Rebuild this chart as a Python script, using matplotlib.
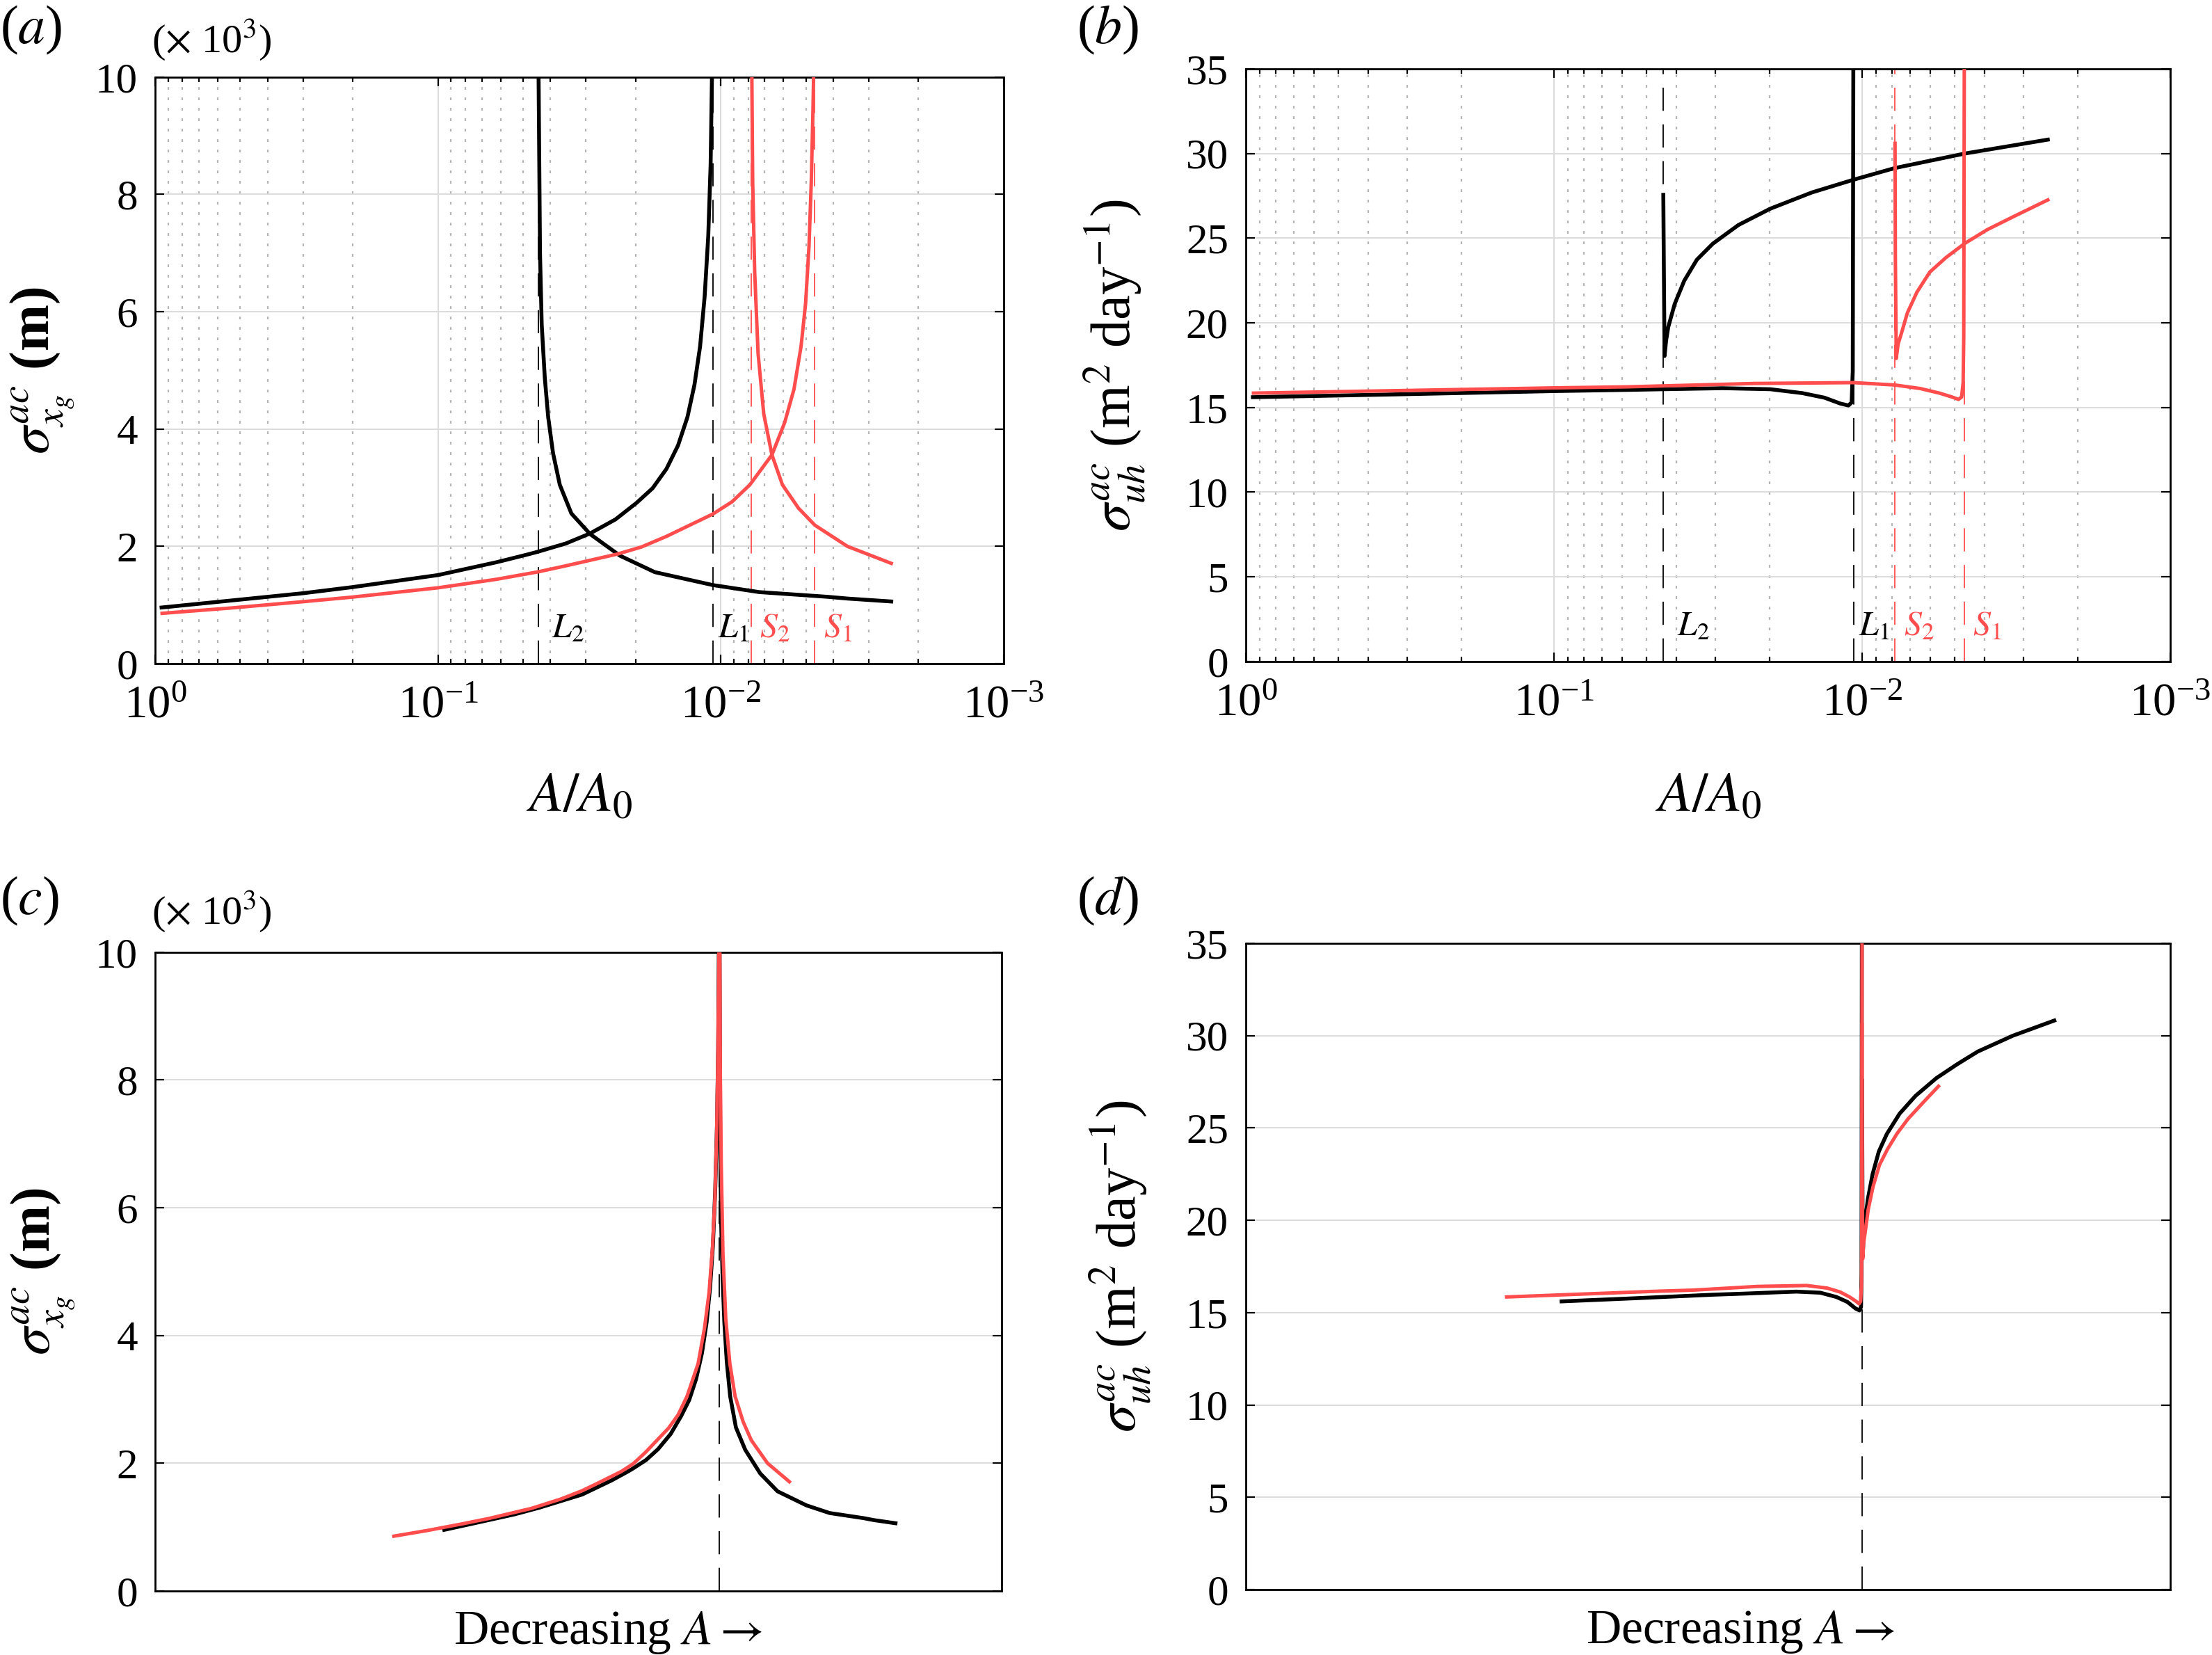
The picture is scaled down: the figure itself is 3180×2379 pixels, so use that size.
import numpy as np
import matplotlib
matplotlib.use('Agg')
import matplotlib.pyplot as plt
from matplotlib.ticker import LogLocator, NullFormatter

plt.rcParams['font.family'] = ['Liberation Serif', 'DejaVu Serif']
plt.rcParams['mathtext.fontset'] = 'stix'
plt.rcParams['lines.scale_dashes'] = False

# ---------------- data ----------------
# fold / bifurcation points (A/A0)
L2, L1, S2, S1 = 0.04416, 0.01064, 0.007816, 0.004656
fold_names = ['L_2', 'L_1', 'S_2', 'S_1']
fold_values = [L2, L1, S2, S1]
fold_colors = ['k', 'k', 'r', 'r']

# panel (a): sigma_xg (x 10^3 m)
A_xg_k1 = [0.9484, 0.5395, 0.3006, 0.2004, 0.1000, 0.06194, 0.04831, 0.04416, 0.03524,
           0.02897, 0.02355, 0.01986, 0.01742, 0.01556, 0.01416, 0.01312, 0.01239, 0.01183,
           0.01140, 0.01107, 0.01086, 0.01074, 0.01069]
xg_k1 = [0.957, 1.076, 1.20, 1.305, 1.51, 1.73, 1.86, 1.91, 2.05, 2.22, 2.46, 2.74, 2.99,
         3.32, 3.72, 4.20, 4.75, 5.41, 6.26, 7.29, 8.50, 10.02, 12.0]

A_xg_r1 = [0.9441, 0.5395, 0.3006, 0.2004, 0.1000, 0.06194, 0.04416, 0.03524, 0.02312,
           0.01905, 0.01556, 0.01067, 0.009120, 0.007888, 0.006592, 0.005943, 0.005508,
           0.005200, 0.005012, 0.004875, 0.004786, 0.004721, 0.004688, 0.004667]
xg_r1 = [0.858, 0.949, 1.056, 1.135, 1.293, 1.439, 1.566, 1.669, 1.87, 1.99, 2.17, 2.55,
         2.76, 3.05, 3.56, 4.11, 4.68, 5.41, 6.14, 7.11, 8.2, 9.41, 10.2, 12.0]

A_xg_k2 = [0.04416, 0.04406, 0.04355, 0.04295, 0.04188, 0.04074, 0.03917, 0.03707, 0.03373,
           0.02897, 0.02270, 0.01710, 0.01067, 0.007311, 0.004198, 0.003565, 0.002495]
xg_k2 = [12.0, 10.0, 6.99, 5.78, 4.87, 4.20, 3.59, 3.05, 2.56, 2.21, 1.84, 1.56, 1.34, 1.22,
         1.14, 1.11, 1.06]

A_xg_r2 = [0.007816, 0.007762, 0.007709, 0.007586, 0.007379, 0.007047, 0.006592, 0.006053,
           0.005309, 0.004645, 0.003565, 0.002495]
xg_r2 = [12.0, 10.0, 8.2, 6.68, 5.29, 4.26, 3.56, 3.05, 2.65, 2.36, 2.00, 1.71]

# panel (b): sigma_uh (m^2 day^-1)
A_uh_k1 = [0.9484, 0.3162, 0.1000, 0.05794, 0.04406, 0.02838, 0.01986, 0.01563, 0.01324,
           0.01175, 0.01107, 0.01081, 0.01072, 0.01067]
uh_k1 = [15.61, 15.78, 15.97, 16.04, 16.08, 16.14, 16.08, 15.85, 15.58, 15.23, 15.12, 15.30,
         17.15, 37.0]

A_uh_r1 = [0.9441, 0.1000, 0.05794, 0.02234, 0.01067, 0.007834, 0.006471, 0.005610,
           0.005105, 0.004864, 0.004753, 0.004699, 0.004677, 0.004656]
uh_r1 = [15.85, 16.16, 16.22, 16.42, 16.47, 16.33, 16.12, 15.85, 15.62, 15.48, 15.62, 16.47,
         19.2, 37.0]

A_uh_k2 = [0.04416, 0.04395, 0.04375, 0.04325, 0.04256, 0.04055, 0.03776, 0.03436, 0.03048,
           0.02518, 0.01986, 0.01455, 0.01067, 0.007834, 0.004634, 0.002495]
uh_k2 = [27.56, 22.5, 18.04, 18.95, 19.75, 21.12, 22.49, 23.73, 24.68, 25.78, 26.74, 27.70,
         28.45, 29.14, 30.0, 30.82]

A_uh_r2 = [0.007816, 0.007798, 0.007745, 0.007638, 0.007464, 0.007129, 0.006638, 0.006026,
           0.005346, 0.004634, 0.003926, 0.003162, 0.002495]
uh_r2 = [30.6, 24.0, 17.9, 18.75, 19.34, 20.58, 21.81, 23.0, 23.85, 24.7, 25.5, 26.35,
         27.26]

xg_ticks = [0, 2, 4, 6, 8, 10]
uh_ticks = [0, 5, 10, 15, 20, 25, 30, 35]

# ---------------- style ----------------
RED = '#ff4d4d'
BLK = 'black'
COL = {'k': BLK, 'r': RED}
LW_K, LW_R = 2.0, 1.8
GRID = '#dcdcdc'

fig = plt.figure(figsize=(15.9, 11.895), dpi=200)
ax_a = fig.add_axes([0.0701, 0.5990, 0.3836, 0.3544])
ax_b = fig.add_axes([0.5632, 0.6003, 0.4179, 0.3581])
ax_c = fig.add_axes([0.0701, 0.0387, 0.3827, 0.3859])
ax_d = fig.add_axes([0.5632, 0.0395, 0.4179, 0.3905])


def base_style(ax, yticks):
    ax.set_ylim(yticks[0], yticks[-1])
    ax.set_yticks(yticks)
    ax.tick_params(axis='both', which='both', direction='in', top=True, right=True)
    ax.tick_params(axis='y', which='major', length=4.8, width=0.8, labelsize=22, pad=9)
    ax.tick_params(axis='x', which='major', length=4.8, width=0.8, labelsize=24, pad=11)
    ax.tick_params(axis='x', which='minor', length=2.4, width=0.8)
    ax.grid(axis='y', color=GRID, lw=0.7)
    for s in ax.spines.values():
        s.set_linewidth(1.0)
    ax.set_axisbelow(True)


def log_style(ax):
    ax.set_xscale('log')
    ax.set_xlim(1, 1e-3)
    ax.xaxis.set_major_locator(LogLocator(base=10, numticks=10))
    ax.xaxis.set_minor_locator(LogLocator(base=10, subs=np.arange(2, 10), numticks=100))
    ax.xaxis.set_minor_formatter(NullFormatter())
    ax.grid(axis='x', which='major', color=GRID, lw=0.7)
    ax.grid(axis='x', which='minor', color='#b4b4b4', lw=0.8, linestyle=(0, (1.4, 4.0)))


def fold_lines(ax, ylab):
    offs = [7, 2.5, 4.5, 4.5]
    for name, val, c, o in zip(fold_names, fold_values, fold_colors, offs):
        ax.axvline(val, color=COL[c], lw=0.65, dashes=(12, 7), zorder=2)
        ax.annotate('$%s$' % name, xy=(val, ylab), xytext=(o, 0), textcoords='offset points',
                    ha='left', va='baseline', fontsize=18, color=COL[c])


# ---- (a)
base_style(ax_a, xg_ticks)
log_style(ax_a)
ax_a.plot(A_xg_k1, xg_k1, color=BLK, lw=LW_K, zorder=3)
ax_a.plot(A_xg_k2, xg_k2, color=BLK, lw=LW_K, zorder=3)
ax_a.plot(A_xg_r1, xg_r1, color=RED, lw=LW_R, zorder=4)
ax_a.plot(A_xg_r2, xg_r2, color=RED, lw=LW_R, zorder=4)
fold_lines(ax_a, 0.45)

# ---- (b)
base_style(ax_b, uh_ticks)
log_style(ax_b)
ax_b.plot(A_uh_k1, uh_k1, color=BLK, lw=LW_K, zorder=3)
ax_b.plot(A_uh_k2, uh_k2, color=BLK, lw=LW_K, zorder=3)
ax_b.plot(A_uh_r1, uh_r1, color=RED, lw=LW_R, zorder=4)
ax_b.plot(A_uh_r2, uh_r2, color=RED, lw=LW_R, zorder=4)
fold_lines(ax_b, 1.56)


# ---- (c), (d): curves aligned at their folds
def shift(A, fold):
    return np.log10(fold / np.asarray(A))


for ax, yt, ks, rs in [
    (ax_c, xg_ticks, [(A_xg_k1, xg_k1, L1), (A_xg_k2, xg_k2, L2)],
     [(A_xg_r1, xg_r1, S1), (A_xg_r2, xg_r2, S2)]),
    (ax_d, uh_ticks, [(A_uh_k1, uh_k1, L1), (A_uh_k2, uh_k2, L2)],
     [(A_uh_r1, uh_r1, S1), (A_uh_r2, uh_r2, S2)]),
]:
    base_style(ax, yt)
    ax.set_xlim(-4.0, 2.0)
    ax.set_xticks([])
    ax.axvline(0, color=BLK, lw=0.65, dashes=(12, 7), zorder=2)
    for A, v, f in ks:
        ax.plot(shift(A, f), v, color=BLK, lw=LW_K, zorder=3)
    for A, v, f in rs:
        ax.plot(shift(A, f), v, color=RED, lw=LW_R, zorder=4)

# ---- labels
lab_xg = r'$\boldsymbol{\sigma^{ac}_{x_g}}$ (m)'
lab_uh = r'$\sigma^{ac}_{uh}$ (m$^2$ day$^{-1}$)'
for ax, lab, xl, bold in [(ax_a, lab_xg, -0.093, True), (ax_b, lab_uh, -0.106, False),
                          (ax_c, lab_xg, -0.093, True), (ax_d, lab_uh, -0.100, False)]:
    ax.set_ylabel(lab, fontsize=29, fontweight='bold' if bold else 'normal')
    ax.yaxis.set_label_coords(xl, 0.5)

for ax, y in [(ax_a, -0.186), (ax_b, -0.188)]:
    ax.set_xlabel(r'$A/A_0$', fontsize=29)
    ax.xaxis.set_label_coords(0.5, y)
    ax.xaxis.label.set_va('top')
for ax in (ax_c, ax_d):
    ax.set_xlabel(r'Decreasing $A \rightarrow$', fontsize=25)
    ax.xaxis.set_label_coords(0.535, -0.030)
    ax.xaxis.label.set_va('top')

W, H = 3180.0, 2379.0
for s, x, y in [('a', 0, 43), ('b', 1548, 43), ('c', 0, 1295), ('d', 1548, 1295)]:
    fig.text(x / W, 1 - y / H, r'($\mathit{%s}$)' % s, ha='left', va='center', fontsize=28)
for y in (58, 1311):
    fig.text(218 / W, 1 - y / H, r'($\times$ 10$^3$)', ha='left', va='center', fontsize=21)

fig.savefig('out.png', dpi=200)
